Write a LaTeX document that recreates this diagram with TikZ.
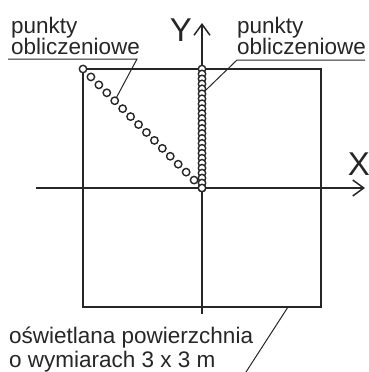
\documentclass[tikz,border=0pt]{standalone}
\usepackage{fontspec}
\setmainfont{Liberation Sans}
\usetikzlibrary{arrows.meta}
\definecolor{ink}{HTML}{262626}
\tikzset{
  frame/.style={draw=ink,line width=2.6pt,minimum size=238pt,inner sep=0pt},
  axis/.style={draw=ink,line width=1.5pt,-{Straight Barb[length=11pt,width=16pt,line width=1.5pt]}},
  leader/.style={draw=ink,line width=1pt},
  pt/.style={circle,draw=ink,fill=white,line width=1.4pt,minimum size=7.4pt,inner sep=0pt},
  lbl/.style={text=ink,font=\fontsize{22.5}{21}\selectfont,align=left,inner sep=0pt},
  axlbl/.style={text=ink,font=\fontsize{33}{33}\selectfont,inner sep=0pt}
}
\begin{document}
\begin{tikzpicture}[x=1pt,y=-1pt]
\useasboundingbox (0,0) rectangle (369,372);
% axes
\coordinate (O) at (202,188);
\coordinate (xs) at (36,188);
\coordinate (xe) at (365,188);
\coordinate (ys) at (202,314);
\coordinate (ye) at (202,23);
\draw[axis] (xs) -- (xe);
\draw[axis] (ys) -- (ye);
\node[axlbl] (X) at (359,164) {X};
\node[axlbl] (Y) at (181,30) {Y};
% illuminated area
\node[frame] (pole) at (O) {};
% labels (base = last line)
\node[lbl,anchor=base west] (lewy) at (11,54) {punkty\\obliczeniowe};
\node[lbl,anchor=base west] (prawy) at (237,54) {punkty\\obliczeniowe};
\node[lbl,anchor=base west,font=\fontsize{22.5}{24}\selectfont] (opis) at (9,367)
  {oświetlana powierzchnia\\o wymiarach 3 x 3 m};
% calculation points
\foreach \i in {0,...,15}
  \coordinate (d\i) at (83+7.933*\i,69+7.933*\i);
\foreach \i in {0,...,24}
  \coordinate (c\i) at (202,69+4.958*\i);
% leaders
\coordinate (l1) at (8,59);
\coordinate (l2) at (137,59);
\coordinate (p1) at (365,60);
\coordinate (p2) at (237,60);
\coordinate (b1) at (288,307);
\coordinate (b2) at (246,372);
\draw[leader] (l1) -- (l2) -- (d4);
\draw[leader] (p1) -- (p2) -- (c5);
\draw[leader] (b1) -- (b2);
\foreach \i in {0,...,15}
  \node[pt] at (d\i) {};
\foreach \i in {0,...,24}
  \node[pt] at (c\i) {};
\end{tikzpicture}
\end{document}
